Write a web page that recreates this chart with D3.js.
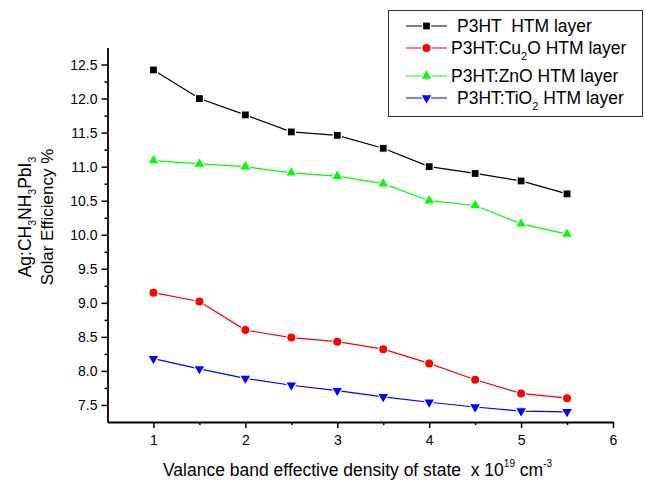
<!DOCTYPE html>
<html lang="en">
<head>
<meta charset="utf-8">
<title>Solar Efficiency vs Valance band density</title>
<script src="https://d3js.org/d3.v7.min.js"></script>
<style>
  body { margin: 0; background: #fff; }
  svg { display: block; font-family: "Liberation Sans", Arial, sans-serif; }
  .tick text { font-size: 14px; fill: #000; }
  .axis path, .axis line { stroke: #000; }
</style>
</head>
<body>
<svg id="chart" width="645" height="482"></svg>
<script>
// data
const xValues = [1, 1.5, 2, 2.5, 3, 3.5, 4, 4.5, 5, 5.5];
const p3ht   = [12.42, 12.00, 11.76, 11.51, 11.46, 11.27, 11.00, 10.90, 10.79, 10.60];
const p3htCu = [9.15, 9.02, 8.60, 8.49, 8.43, 8.32, 8.11, 7.87, 7.67, 7.60];
const p3htZn = [11.09, 11.04, 11.00, 10.91, 10.86, 10.75, 10.50, 10.43, 10.16, 10.01];
const p3htTi = [8.18, 8.03, 7.89, 7.79, 7.71, 7.62, 7.54, 7.47, 7.41, 7.40];
const xTicks = [1, 2, 3, 4, 5, 6];
const yTicks = [7.5, 8.0, 8.5, 9.0, 9.5, 10.0, 10.5, 11.0, 11.5, 12.0, 12.5];

const series = [
  { name: "P3HT  HTM layer", sub: null, values: p3ht, color: "#000000", marker: "square" },
  { name: "P3HT:Cu", sub: "2", after: "O HTM layer", values: p3htCu, color: "#ff0000", marker: "circle" },
  { name: "P3HT:ZnO HTM layer", sub: null, values: p3htZn, color: "#00ff00", marker: "up" },
  { name: "P3HT:TiO", sub: "2", after: " HTM layer", values: p3htTi, color: "#0000ff", marker: "down" }
];

const svg = d3.select("#chart");

//scales
const x = d3.scaleLinear().domain([0.5, 6]).range([107.5, 613]);
const y = d3.scaleLinear().domain([7.25, 12.75]).range([422, 47.5]);

//minor ticks first, then majors
svg.append("g")
  .attr("class", "axis")
  .attr("transform", "translate(0,422)")
  .call(d3.axisBottom(x).tickValues([1.5, 2.5, 3.5, 4.5, 5.5]).tickSize(3).tickFormat(""))
  .call(g => g.select(".domain").remove())
  .selectAll("line").attr("stroke-width", 1.5);

svg.append("g")
  .attr("class", "axis")
  .attr("transform", "translate(0,422)")
  .call(d3.axisBottom(x).tickValues(xTicks).tickSize(6).tickSizeOuter(0).tickPadding(7).tickFormat(d3.format("d")))
  .call(g => g.select(".domain").attr("stroke-width", 1.8))
  .call(g => g.selectAll("line").attr("stroke-width", 1.5));

svg.append("g")
  .attr("class", "axis")
  .attr("transform", "translate(107.5,0)")
  .call(d3.axisLeft(y).tickValues(d3.range(7.75, 12.75, 0.5)).tickSize(3).tickFormat(""))
  .call(g => g.select(".domain").remove())
  .selectAll("line").attr("stroke-width", 1.5);

svg.append("g")
  .attr("class", "axis")
  .attr("transform", "translate(107.5,0)")
  .call(d3.axisLeft(y).tickValues(yTicks).tickSize(6).tickSizeOuter(0).tickPadding(4).tickFormat(d3.format(".1f")))
  .call(g => g.select(".domain").attr("stroke-width", 1.8))
  .call(g => g.selectAll("line").attr("stroke-width", 1.5));

//markers
const tri = d3.symbol().type(d3.symbolTriangle).size(58);
function drawMarker(g, kind, color) {
  if (kind === "square") {
    g.append("rect").attr("x", -4).attr("y", -4).attr("width", 8).attr("height", 8).attr("fill", color);
  } else if (kind === "circle") {
    g.append("circle").attr("r", 4.6).attr("fill", color);
  } else if (kind === "up") {
    g.append("path").attr("d", tri()).attr("fill", color);
  } else {
    g.append("path").attr("d", tri()).attr("transform", "rotate(180)").attr("fill", color);
  }
  g.selectAll("*").attr("stroke", "#fff").attr("stroke-width", 1.2);
}

const line = d3.line().x(d => x(d[0])).y(d => y(d[1]));

series.forEach(s => {
  const pts = xValues.map((v, i) => [v, s.values[i]]);
  svg.append("path")
    .datum(pts)
    .attr("fill", "none")
    .attr("stroke", s.color)
    .attr("stroke-width", 1.2)
    .attr("d", line);
  pts.forEach(p => {
    const g = svg.append("g").attr("transform", `translate(${x(p[0])},${y(p[1])})`);
    drawMarker(g, s.marker, s.color);
  });
});

//axis titles
const xt = svg.append("text")
  .attr("x", 163)
  .attr("y", 476)
  .attr("font-size", 17.5)
  .attr("xml:space", "preserve")
  .style("white-space", "pre");
xt.append("tspan").text("Valance band effective density of state  x 10");
xt.append("tspan").attr("dy", -9).attr("font-size", 10).text("19");
xt.append("tspan").attr("dy", 9).text(" cm");
xt.append("tspan").attr("dy", -9).attr("font-size", 10).text("-3");

const yt = svg.append("g").attr("transform", "translate(31,217) rotate(-90)");
const yl1 = yt.append("text").attr("text-anchor", "middle").attr("font-size", 17.5);
yl1.append("tspan").text("Ag:CH");
yl1.append("tspan").attr("dy", 5).attr("font-size", 10.5).text("3");
yl1.append("tspan").attr("dy", -5).text("NH");
yl1.append("tspan").attr("dy", 5).attr("font-size", 10.5).text("3");
yl1.append("tspan").attr("dy", -5).text("PbI");
yl1.append("tspan").attr("dy", 5).attr("font-size", 10.5).text("3");
yt.append("text")
  .attr("text-anchor", "middle")
  .attr("y", 22)
  .attr("font-size", 17)
  .text("Solar Efficiency %");

//legend
const legend = svg.append("g");
legend.append("rect")
  .attr("x", 388.5).attr("y", 10.5)
  .attr("width", 254).attr("height", 106)
  .attr("fill", "#fff")
  .attr("stroke", "#333")
  .attr("stroke-width", 1);

const rowsY = [26, 48, 76, 98];
const textX = [457, 451, 451, 457];
series.forEach((s, i) => {
  const row = legend.append("g").attr("transform", `translate(0,${rowsY[i]})`);
  row.append("line").attr("x1", 406).attr("x2", 447).attr("stroke", s.color).attr("stroke-width", 1.2);
  drawMarker(row.append("g").attr("transform", "translate(426.5,0)"), s.marker, s.color);
  const t = row.append("text")
    .attr("x", textX[i]).attr("y", 6)
    .attr("font-size", 17.5)
    .attr("xml:space", "preserve")
    .style("white-space", "pre");
  t.append("tspan").text(s.name);
  if (s.sub) {
    t.append("tspan").attr("dy", 6).attr("font-size", 11).text(s.sub);
    t.append("tspan").attr("dy", -6).text(s.after);
  }
});
</script>
</body>
</html>
